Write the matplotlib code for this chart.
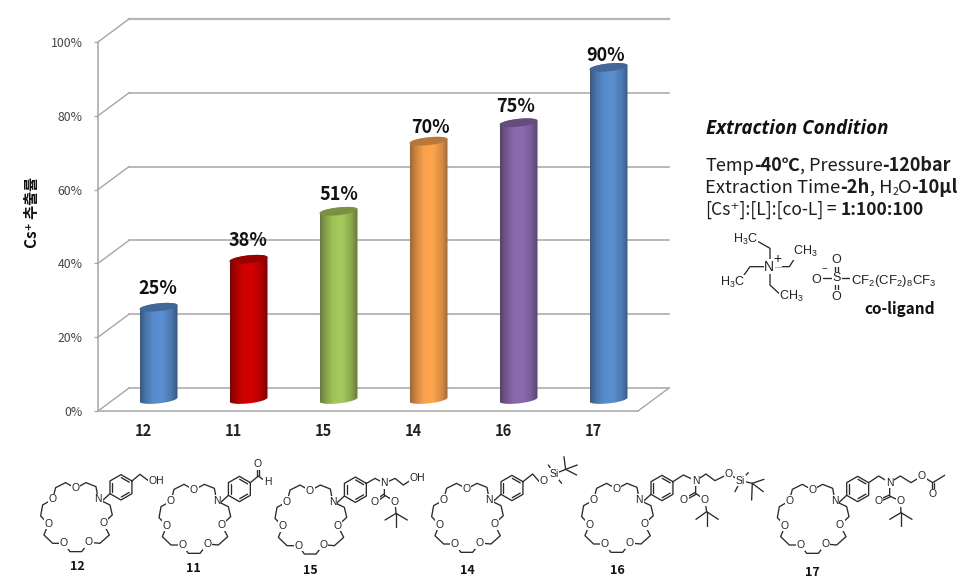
import numpy as np
import matplotlib
matplotlib.use('Agg')
import matplotlib.pyplot as plt
from matplotlib.path import Path
from matplotlib.patches import PathPatch

plt.rcParams['font.family'] = ['Noto Sans CJK KR', 'DejaVu Sans']
plt.rcParams['mathtext.fontset'] = 'custom'
plt.rcParams['mathtext.rm'] = 'Liberation Sans'
plt.rcParams['mathtext.default'] = 'regular'

compounds = ['12', '11', '15', '14', '16', '17']
yields = [25, 38, 51, 70, 75, 90]
yield_ticks = [0, 20, 40, 60, 80, 100]
bar_colors = ['#5a90d2', '#d40000', '#a6ca5c', '#ffa64e', '#8d6bb0', '#5a90d2']
ylabel = 'Cs\u207a 추출률'

W, H = 971, 582
GRID = '#a6a6a6'
INK = '#222222'


def lerp_shade(col, n=64):
    # dark edges, bright middle, like the office 3d cylinders
    rgb = np.array(matplotlib.colors.to_rgb(col))
    u = np.linspace(-1, 1, n)
    f = np.interp(u, [-1, -0.75, -0.3, 0.15, 0.65, 1], [0.62, 0.78, 0.97, 1.0, 0.84, 0.6])
    return (rgb[None, None, :] * f[None, :, None]).clip(0, 1)


fig = plt.figure(figsize=(W / 100, H / 100), dpi=100)
ax = fig.add_axes([98 / W, (H - 411) / H, 540 / W, 369 / H])
ax.patch.set_alpha(0)
ax.set_xlim(-0.5, 5.5)
ax.set_ylim(0, 100)
dx = 31 / 90.0    # depth of the box in category units
dy = 23 / 3.69    # depth of the box in percent

# walls and floor
for t in yield_ticks:
    col = '#b6b6b6' if t == 100 else GRID
    lw = 1.6 if t == 100 else 1.1
    ax.plot([-0.5 + dx, 5.5 + dx], [t + dy, t + dy], color=col, lw=lw, clip_on=False, zorder=1)
    ax.plot([-0.5, -0.5 + dx], [t, t + dy], color=GRID, lw=1.0, clip_on=False, zorder=1)
ax.plot([5.5, 5.5 + dx], [0, dy], color=GRID, lw=1.0, clip_on=False, zorder=1)

# cylinders
half = 19 / 90.0
tilt = 2.0 / 3.69
minor = 3.9 / 3.69
s = np.linspace(0, 2 * np.pi, 80)
# hand placed labels in the original sit a little closer to the taller bars
nudge_x = [-0.01, -0.01, 0.01, 0.02, -0.03, -0.03]
nudge_y = [8.2, 8.2, 7.8, 6.8, 7.6, 6.3]
for i, v in enumerate(yields):
    cx = i + dx / 2
    base = dy / 2
    top = v + dy / 2
    s1 = np.linspace(np.pi, 2 * np.pi, 40)
    s2 = np.linspace(0, np.pi, 40)
    xs = np.r_[cx + half * np.cos(s1), cx + half * np.cos(s2)]
    ys = np.r_[base + tilt * np.cos(s1) + minor * np.sin(s1),
               top + tilt * np.cos(s2) + minor * np.sin(s2)]
    body = PathPatch(Path(np.c_[xs, ys]), transform=ax.transData, fc='none', ec='none')
    ax.add_patch(body)
    im = ax.imshow(lerp_shade(bar_colors[i]), extent=[cx - half, cx + half, -2, top + 3],
                   aspect='auto', interpolation='bilinear', zorder=3, clip_on=True)
    im.set_clip_path(body)
    rgb = np.array(matplotlib.colors.to_rgb(bar_colors[i])) * 0.72
    ax.fill(cx + half * np.cos(s), top + tilt * np.cos(s) + minor * np.sin(s),
            color=rgb, lw=0, zorder=4, clip_on=False)
    ax.text(cx + nudge_x[i], v + nudge_y[i], '%d%%' % v, ha='center', va='center', fontsize=13,
            fontweight='bold', color='#111111', zorder=5)

ax.set_xlim(-0.5, 5.5)
ax.set_ylim(0, 100)
ax.set_xticks(range(len(compounds)))
ax.set_xticklabels(compounds, fontsize=10.5, fontweight='bold', color='#222222')
ax.tick_params(axis='x', length=0, pad=9)
ax.set_yticks(yield_ticks)
ax.set_yticklabels(['%d%%' % t for t in yield_ticks], fontsize=8.8, color='#444444')
ax.tick_params(axis='y', length=3, width=0.9, color=GRID, pad=8)
for side in ['top', 'right']:
    ax.spines[side].set_visible(False)
for side in ['left', 'bottom']:
    ax.spines[side].set_color(GRID)
    ax.spines[side].set_linewidth(1.1)
ax.set_ylabel(ylabel, fontsize=11, fontweight='bold', color='#111111')
ax.yaxis.set_label_coords(-0.108, 0.537)

# overlay in picture pixels for the conditions text and the drawn molecules
ov = fig.add_axes([0, 0, 1, 1], zorder=10)
ov.set_xlim(0, W)
ov.set_ylim(H, 0)
ov.axis('off')
ov.patch.set_alpha(0)
rend = fig.canvas.get_renderer()


def run_text(x, y, parts, size):
    for s_, weight in parts:
        t = ov.text(x, y, s_, fontsize=size, fontweight=weight, color='#1c1c1c', va='baseline', ha='left')
        x += t.get_window_extent(rend).width
    return x


ov.text(706, 134, 'Extraction Condition', fontsize=13.5, style='italic', fontweight='bold',
        family='Open Sans', color='#111111')
run_text(705, 171, [('Temp', 'normal'), ('-40℃', 'bold'), (', Pressure', 'normal'), ('-120bar', 'bold')], 13)
x_ = run_text(705, 193, [('Extraction Time', 'normal'), ('-2h', 'bold'), (', H', 'normal')], 13.2)
x_ = run_text(x_, 195, [('2', 'normal')], 7.5)
run_text(x_, 193, [('O', 'normal'), ('-10µl', 'bold')], 13.2)
run_text(705, 215, [('[Cs\u207a]:[L]:[co-L]', 'normal'), (' = ', 'normal'), ('1:100:100', 'bold')], 12.6)


def bonds(ox, oy, scale, chains, col='#2a2a2a', lw=0.95):
    for ch in chains:
        p = np.array(ch, dtype=float)
        ov.plot(ox + p[:, 0] / scale, oy + p[:, 1] / scale, color=col, lw=lw, solid_capstyle='round', zorder=2)


def dbl(ox, oy, scale, a, b, off=3.0):
    a = np.array(a, float)
    b = np.array(b, float)
    n = np.array([-(b - a)[1], (b - a)[0]])
    n = n / np.hypot(*n) * off
    bonds(ox, oy, scale, [[a + n, b + n], [a - n, b - n]])


def atom(ox, oy, scale, x, y, s_, size=7.5, ha='center'):
    ov.text(ox + x / scale, oy + y / scale, s_, fontsize=size, family='Liberation Sans', ha=ha, va='center',
            color=INK, zorder=3, bbox=dict(fc='white', ec='none', pad=0.4))


# co-ligand, coordinates in 3x crop units from (690, 110)
CX, CY = 690, 110
bonds(CX, CY, 3, [[(240, 455), (240, 415), (205, 395)],
                  [(250, 470), (298, 470), (320, 436)],
                  [(225, 470), (180, 470), (155, 505)],
                  [(240, 488), (240, 525), (270, 553)],
                  [(398, 505), (425, 505)], [(455, 505), (480, 505)]])
dbl(CX, CY, 3, (440, 490), (440, 465), off=4)
dbl(CX, CY, 3, (440, 520), (440, 545), off=4)
atom(CX, CY, 3, 165, 388, r'$H_3C$', 9)
atom(CX, CY, 3, 345, 425, r'$CH_3$', 9)
atom(CX, CY, 3, 128, 518, r'$H_3C$', 9)
atom(CX, CY, 3, 305, 560, r'$CH_3$', 9)
atom(CX, CY, 3, 238, 470, 'N', 10)
atom(CX, CY, 3, 262, 447, '+', 10)
atom(CX, CY, 3, 380, 510, 'O', 9)
atom(CX, CY, 3, 404, 478, '\u2212', 7)
atom(CX, CY, 3, 440, 505, 'S', 9)
atom(CX, CY, 3, 440, 450, 'O', 9)
atom(CX, CY, 3, 440, 560, 'O', 9)
atom(CX, CY, 3, 483, 513, r'$CF_2(CF_2)_8CF_3$', 9.5, ha='left')
ov.text(CX + 628 / 3, CY + 597 / 3, 'co-ligand', fontsize=11, fontweight='bold', color='#111111',
        ha='center', va='center')

# aza crown ether shared by all six molecules, 3x crop units relative to the N
crown_c = [(0, 0), (-7, -38), (-37, -50), (-68, -33), (-98, -50), (-128, -35), (-137, 0), (-167, 17),
           (-173, 50), (-150, 74), (-163, 107), (-137, 132), (-103, 132), (-85, 157), (-50, 157),
           (-28, 129), (5, 132), (33, 107), (15, 72), (42, 47), (35, 17), (0, 0)]
crown_o = [3, 6, 9, 12, 15, 18]
ring_c = (68, -36)
ring_r = 38
para = (101, -55)
angs = np.deg2rad([30, 90, 150, 210, 270, 330])
ring_p = [(ring_c[0] + ring_r * np.cos(a), ring_c[1] - ring_r * np.sin(a)) for a in angs]


def boc(x0, y0, n, c, o1, o2, q, m1, m2, m3):
    bonds(x0, y0, 3, [[n, c, o2, q, m1], [q, m2], [q, m3]])
    dbl(x0, y0, 3, c, o1)
    atom(x0, y0, 3, o1[0], o1[1], 'O')
    atom(x0, y0, 3, o2[0], o2[1], 'O')


def molecule(nx, ny):
    bonds(nx, ny, 3, [crown_c, [(10, 6), (35, -17)], ring_p + [ring_p[0]]])
    for a, b in [(0, 1), (2, 3), (4, 5)]:
        pa = np.array(ring_p[a], float)
        pb = np.array(ring_p[b], float)
        m = (pa + pb) / 2
        inner = np.array(ring_c) + (m - np.array(ring_c)) * 0.78
        d = (pb - pa) * 0.36
        bonds(nx, ny, 3, [[inner - d, inner + d]])
    for k in crown_o:
        atom(nx, ny, 3, crown_c[k][0], crown_c[k][1], 'O')
    atom(nx, ny, 3, 0, 0, 'N')
    return nx + para[0] / 3.0, ny + para[1] / 3.0


# 12
px, py = molecule(98.3, 499.3)
bonds(px, py, 3, [[(0, 0), (24, -20), (49, -1), (60, -1)]])
atom(px, py, 3, 72, -1, 'OH')
# 11
px, py = molecule(216.7, 501)
bonds(px, py, 3, [[(0, 0), (24, -20), (45, -4)]])
dbl(px, py, 3, (24, -20), (24, -50))
atom(px, py, 3, 22, -56, 'O')
atom(px, py, 3, 52, -1, 'H')
# 15
px, py = molecule(332.7, 501.7)
bonds(px, py, 3, [[(0, 0), (26, -15), (54, 0), (86, -15), (111, 5), (141, -15)]])
atom(px, py, 3, 54, 0, 'N')
atom(px, py, 3, 154, -15, 'OH')
boc(px, py, (54, 0), (54, 35), (26, 55), (86, 55), (89, 90), (56, 110), (123, 110), (89, 132))
# 14
px, py = molecule(489.3, 500)
bonds(px, py, 3, [[(0, 0), (29, -23), (49, 0), (63, -3), (94, -23), (128, -37), (123, -75)],
                  [(76, -50), (94, -23), (116, 5)], [(128, -37), (163, -50)], [(128, -37), (161, -20)]])
atom(px, py, 3, 63, -3, 'O')
atom(px, py, 3, 94, -23, 'Si')
# 16
px, py = molecule(639.3, 500)
bonds(px, py, 3, [[(0, 0), (31, -20), (68, -3), (99, -23), (126, -3), (166, -23), (203, -3), (238, 5), (273, -7)],
                  [(226, -27), (203, -3), (186, 30)], [(238, 5), (271, 30)], [(238, 5), (236, 55)]])
atom(px, py, 3, 68, -3, 'N')
atom(px, py, 3, 166, -23, 'O')
atom(px, py, 3, 203, -3, 'Si')
boc(px, py, (68, -3), (68, 35), (33, 55), (96, 55), (101, 90), (69, 113), (136, 113), (101, 133))
# 17
px, py = molecule(835, 501)
bonds(px, py, 3, [[(0, 0), (30, -20), (63, 0), (95, -20), (127, 0), (160, -20), (192, 0), (228, -22)]])
dbl(px, py, 3, (192, 0), (192, 30))
atom(px, py, 3, 63, 0, 'N')
atom(px, py, 3, 160, -20, 'O')
atom(px, py, 3, 192, 35, 'O')
boc(px, py, (63, 0), (63, 40), (30, 55), (95, 55), (97, 90), (63, 110), (130, 110), (97, 130))

label_x = [77, 193, 310, 467, 617, 812]
label_y = [567, 568, 571, 571, 571, 572]
for name, lx, ly in zip(compounds, label_x, label_y):
    ov.text(lx, ly, name, fontsize=9, fontweight='bold', ha='center', va='center', color='#111111')

fig.savefig('out.png', dpi=100)
